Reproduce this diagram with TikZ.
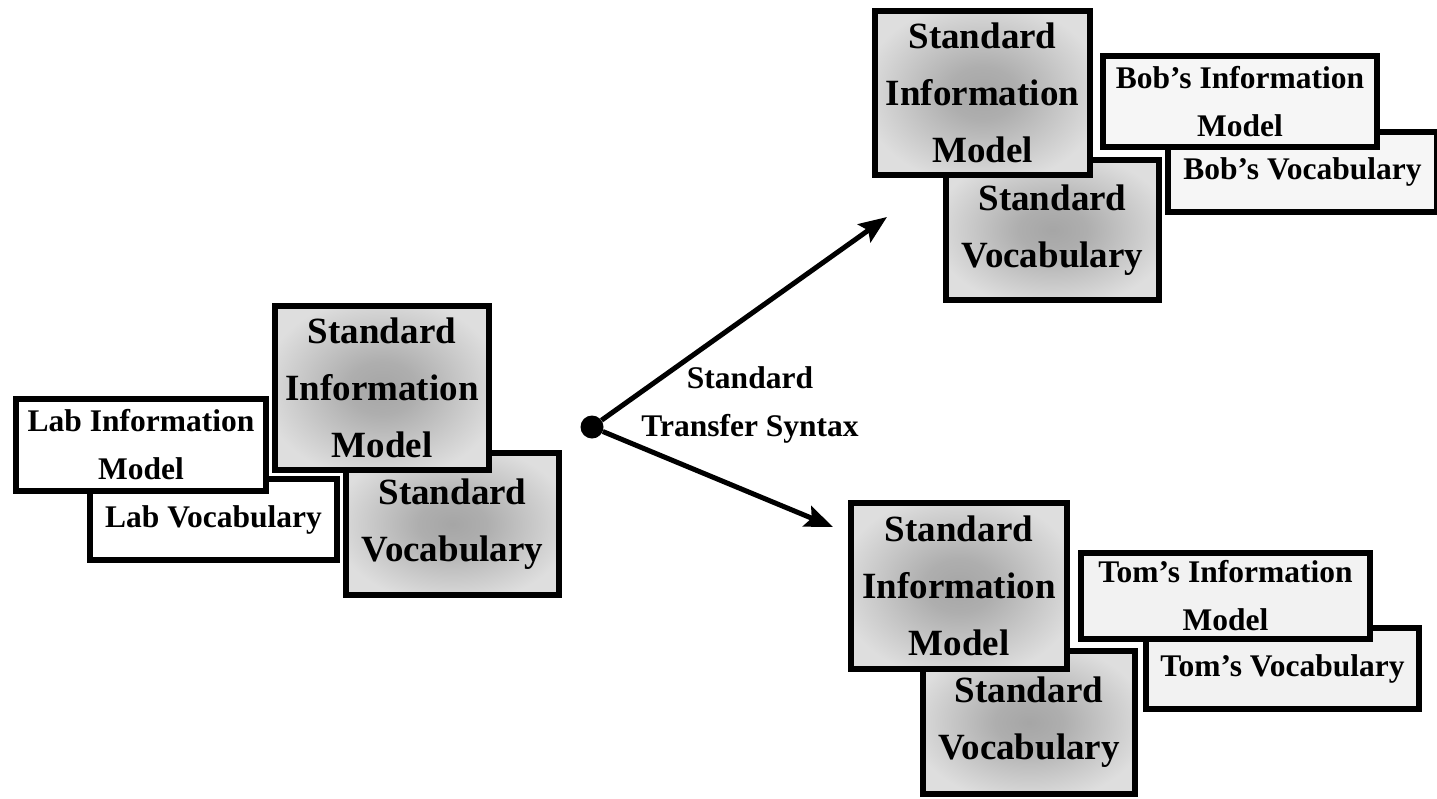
\documentclass[tikz,border=0pt]{standalone}
\usepackage{fontspec}
\setmainfont{Liberation Serif}
\usetikzlibrary{arrows.meta}
\definecolor{stdrim}{gray}{0.87}
\definecolor{stdcore}{gray}{0.65}
\definecolor{bobfill}{gray}{0.965}
\definecolor{tomfill}{gray}{0.95}
\pgfdeclareradialshading{stdglow}{\pgfpoint{0bp}{0bp}}{color(0bp)=(stdcore);
  color(8bp)=(stdcore!85!stdrim); color(28bp)=(stdrim); color(50bp)=(stdrim)}
\tikzset{
  box/.style={draw=black,line width=6pt,inner sep=2pt,align=center,fill=white,
    font=\bfseries\fontsize{31.5}{48}\selectfont},
  stdbox/.style={box,shading=stdglow,
    font=\bfseries\fontsize{37}{57}\selectfont},
  link/.style={line width=5pt,-{Stealth[length=28pt,width=22pt,inset=5pt]}}
}
\begin{document}
\begin{tikzpicture}[x=1pt,y=-1pt]
  \useasboundingbox (0,0) rectangle (1437,798);
  % left: the lab
  \node[box,minimum width=247pt,minimum height=81pt](labvoc) at (213.5,519.5){Lab Vocabulary};
  \node[box,minimum width=250pt,minimum height=92pt](labinfo) at (141,445){Lab Information\\Model};
  \node[stdbox,minimum width=213pt,minimum height=142pt](stdvocL) at (452.5,524){Standard\\Vocabulary};
  \node[stdbox,minimum width=214pt,minimum height=164pt](stdinfoL) at (382,388){Standard\\Information\\Model};
  % top: Bob
  \node[stdbox,minimum width=213pt,minimum height=140pt](stdvocT) at (1052.5,230){Standard\\Vocabulary};
  \node[stdbox,minimum width=215pt,minimum height=164pt](stdinfoT) at (982.5,93){Standard\\Information\\Model};
  \node[box,fill=bobfill,minimum width=269pt,minimum height=80pt](bobvoc) at (1302.5,172){Bob’s Vocabulary};
  \node[box,fill=bobfill,minimum width=274pt,minimum height=91pt](bobinfo) at (1240,101.5){Bob’s Information\\Model};
  % bottom: Tom
  \node[stdbox,minimum width=212pt,minimum height=143pt](stdvocB) at (1029,722.5){Standard\\Vocabulary};
  \node[stdbox,minimum width=216pt,minimum height=166pt](stdinfoB) at (959,586){Standard\\Information\\Model};
  \node[box,fill=tomfill,minimum width=273pt,minimum height=81pt](tomvoc) at (1282.5,668.5){Tom’s Vocabulary};
  \node[box,fill=tomfill,minimum width=289pt,minimum height=86pt](tominfo) at (1225.5,596){Tom’s Information\\Model};
  % transfer
  \node[circle,fill=black,inner sep=0pt,minimum size=23pt](hub) at (592,427){};
  \node[align=center,font=\bfseries\fontsize{31.5}{48}\selectfont](syntax) at (750,405){Standard\\Transfer Syntax};
  \coordinate (toBob) at (887,217);
  \coordinate (toTom) at (833,527);
  \draw[link](hub) -- (toBob);
  \draw[link](hub) -- (toTom);
\end{tikzpicture}
\end{document}
